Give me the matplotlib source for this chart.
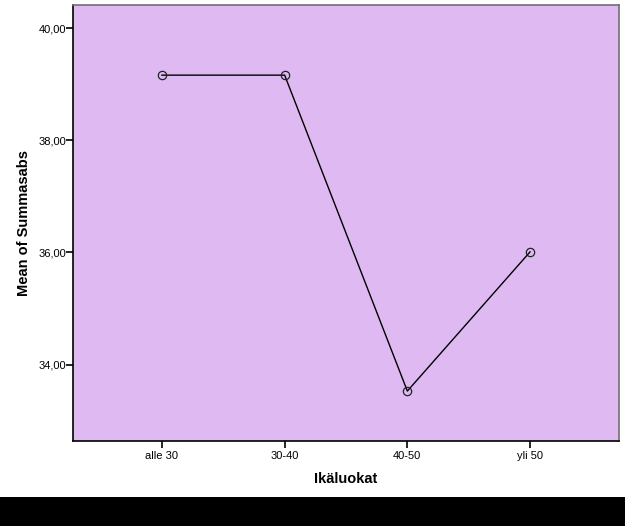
import matplotlib
matplotlib.use("Agg")
import matplotlib.pyplot as plt
from matplotlib.ticker import FuncFormatter

#%% data
categories = ["alle 30", "30-40", "40-50", "yli 50"]
means = [39.16, 39.16, 33.53, 36.01]
y_ticks = [34.0, 36.0, 38.0, 40.0]

plt.rcParams['font.family'] = ['Liberation Sans', 'DejaVu Sans']

fig = plt.figure(figsize=(6.25, 5.26), dpi=100)
fig.patch.set_facecolor('white')

# plot area in pixel terms: left 73, right 619, top 5, bottom 441
ax = fig.add_axes([73/625, 1 - 441/526, (619-73)/625, (441-5)/526])
ax.set_facecolor('#DFBAF2')

x = list(range(len(categories)))
ax.plot(x, means, color='black', linewidth=1.0, marker='o', markersize=6,
        markerfacecolor='none', markeredgecolor='#222222', markeredgewidth=0.9)

ax.set_xlim(-0.725, 3.725)
ax.set_ylim(32.64, 40.41)
ax.set_xticks(x)
ax.set_xticklabels(categories)
ax.set_yticks(y_ticks)
ax.yaxis.set_major_formatter(FuncFormatter(lambda v, p: ("%.2f" % v).replace('.', ',')))

ax.tick_params(axis='both', direction='out', length=5, width=1.2, labelsize=8, colors='black')
ax.tick_params(axis='x', pad=2)
ax.tick_params(axis='y', pad=0)

ax.spines['left'].set_color('black')
ax.spines['bottom'].set_color('black')
ax.spines['top'].set_color('#707070')
ax.spines['right'].set_color('#707070')
for s in ax.spines.values():
    s.set_linewidth(1.2)

ax.set_xlabel("Ikäluokat", fontsize=10.5, fontweight='bold', labelpad=8)
ax.set_ylabel("Mean of Summasabs", fontsize=10.5, fontweight='bold', labelpad=5)

# black band at the bottom of the image
fig.patches.append(plt.Rectangle((0, 0), 1, 29/526, transform=fig.transFigure,
                                 facecolor='black', edgecolor='none', zorder=5))

fig.savefig("out.png", dpi=100)
